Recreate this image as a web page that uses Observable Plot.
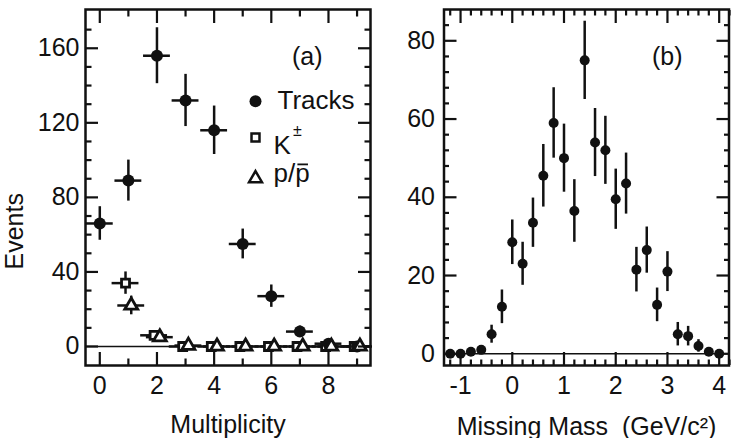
<!DOCTYPE html>
<html>
<head>
<meta charset="utf-8">
<script src="https://cdn.jsdelivr.net/npm/d3@7"></script>
<script src="https://cdn.jsdelivr.net/npm/@observablehq/plot@0.6"></script>
<style>
  html, body { margin: 0; padding: 0; background: #fff; }
  #fig { display: flex; width: 735px; height: 438px; overflow: hidden; }
</style>
</head>
<body>
<div id="fig"></div>
<script>
// ---- (a) event multiplicity ----
const multiplicity = [0, 1, 2, 3, 4, 5, 6, 7, 8, 9];
const tracks      = [66, 89, 156, 132, 116, 55, 27, 8, 1.5, 0];
const tracksErr   = [9, 11, 15, 14, 13, 8, 6, 3, 1.5, 0];

const speciesMultiplicity = [1, 2, 3, 4, 5, 6, 7, 8, 9];
const kaons      = [34, 6, 0, 0, 0, 0, 0, 0, 0];
const kaonsErr   = [6, 2.5, 0.5, 0, 0, 0, 0, 0, 0];
const protons    = [22, 5, 0.5, 0, 0, 0, 0, 0, 0];
const protonsErr = [5, 2.5, 0.5, 0, 0, 0, 0, 0, 0];

const binHalfWidth = 0.47;   // horizontal bar half-width
const speciesShift = 0.1;    // K left, p right of the bin centre

const aXTicks = [0, 2, 4, 6, 8];
const aXMinor = [1, 3, 5, 7, 9];
const aYTicks = [0, 40, 80, 120, 160];
const aYMinor = [10, 20, 30, 50, 60, 70, 90, 100, 110, 130, 140, 150, 170];

// ---- (b) missing mass spectrum ----
const missingMass = [-1.2, -1.0, -0.8, -0.6, -0.4, -0.2, 0.0, 0.2, 0.4, 0.6, 0.8, 1.0, 1.2, 1.4,
                     1.6, 1.8, 2.0, 2.2, 2.4, 2.6, 2.8, 3.0, 3.2, 3.4, 3.6, 3.8, 4.0];
const massEvents  = [0, 0, 0.5, 1, 5, 12, 28.5, 23, 33.5, 45.5, 59, 50, 36.5, 75,
                     54, 52, 39.5, 43.5, 21.5, 26.5, 12.5, 21, 5, 4.5, 2, 0.5, 0];
const massErr     = [0, 0, 0.5, 1, 2.3, 4.3, 5.7, 5.5, 6.3, 8, 9, 8.7, 8, 10,
                     8.7, 8.7, 7.7, 7.8, 5.7, 5.9, 4.3, 5.1, 3, 2.5, 1.6, 0.5, 0];

const bXTicks = [-1, 0, 1, 2, 3, 4];
const bXMinor = d3.range(-12, 43, 2).map(d => d / 10).filter(d => !bXTicks.includes(d));
const bYTicks = [0, 20, 40, 60, 80];
const bYMinor = d3.range(4, 88, 4).filter(d => d % 20 !== 0);

const FONT = "'Liberation Sans', Arial, Helvetica, sans-serif";
const INK = "#111";

// inward tick marks on all four sides: axis ticks shifted back across the frame edge
function frameTicks({xMajor, xMinor, yMajor, yMinor, major, minor}) {
  const s = {stroke: INK, strokeWidth: 2.2, fill: "none", label: null};
  const marks = [];
  for (const [vals, len] of [[xMajor, major], [xMinor, minor]]) {
    marks.push(Plot.axisX({anchor: "bottom", ticks: vals, tickSize: len, dy: -len, ...s}));
    marks.push(Plot.axisX({anchor: "top", ticks: vals, tickSize: len, dy: len, ...s}));
  }
  for (const [vals, len] of [[yMajor, major], [yMinor, minor]]) {
    marks.push(Plot.axisY({anchor: "left", ticks: vals, tickSize: len, dx: len, ...s}));
    marks.push(Plot.axisY({anchor: "right", ticks: vals, tickSize: len, dx: -len, ...s}));
  }
  return marks;
}

// a text label pinned to the top-right corner of the frame
const corner = (str, dx, dy, opts = {}) =>
  Plot.text([str], {frameAnchor: "top-right", lineAnchor: "middle", textAnchor: "start", dx, dy, fill: INK, ...opts});

function panelA() {
  const W = 372, H = 438, mL = 85, mR = 2, mT = 9, mB = 73;
  const xDomain = [-0.5, 9.47], yDomain = [-10.2, 180.8];
  const trk = multiplicity.map((m, i) => ({m, v: tracks[i], e: tracksErr[i]}));
  const kp = speciesMultiplicity.map((m, i) => ({m: m - speciesShift, v: kaons[i], e: kaonsErr[i]}));
  const pp = speciesMultiplicity.map((m, i) => ({m: m + speciesShift, v: protons[i], e: protonsErr[i]}));
  const bars = (data) => [
    Plot.ruleX(data, {x: "m", y1: d => d.v - d.e, y2: d => d.v + d.e, stroke: INK, strokeWidth: 2.5}),
    Plot.ruleY(data, {y: "v", x1: d => d.m - binHalfWidth, x2: d => d.m + binHalfWidth, stroke: INK, strokeWidth: 2.5})
  ];
  // overbar of the antiproton symbol in the legend
  const barY = 97.7, barX = [6.93, 7.3];
  return Plot.plot({
    width: W, height: H,
    marginLeft: mL, marginRight: mR, marginTop: mT, marginBottom: mB,
    style: {fontFamily: FONT, fontSize: "25px", color: INK, background: "#fff"},
    x: {domain: xDomain},
    y: {domain: yDomain},
    marks: [
      Plot.ruleY([0], {stroke: INK, strokeWidth: 1.5}),
      ...bars(trk), ...bars(kp), ...bars(pp),
      Plot.dot(kp, {x: "m", y: "v", symbol: "square", r: 4.5, fill: "#fff", stroke: INK, strokeWidth: 2.8}),
      Plot.dot(trk, {x: "m", y: "v", r: 6, fill: INK}),
      Plot.dot(pp, {x: "m", y: "v", symbol: "triangle", r: 4.8, fill: "#fff", stroke: INK, strokeWidth: 2.8}),
      Plot.frame({stroke: INK, strokeWidth: 2.5}),
      Plot.axisX({ticks: aXTicks, tickSize: 0, tickPadding: 11, tickFormat: d => String(d), label: null}),
      Plot.axisY({ticks: aYTicks, tickSize: 0, tickPadding: 6, tickFormat: d => String(d), label: null}),
      Plot.text(["Multiplicity"], {frameAnchor: "bottom", dy: 67, fill: INK}),
      Plot.text(["Events"], {frameAnchor: "left", dx: -71, dy: 82, rotate: -90, fill: INK}),
      corner("(a)", -48, 47, {textAnchor: "end"}),
      // legend
      Plot.dot([0], {frameAnchor: "top-right", dx: -115, dy: 91.7, r: 6, fill: INK}),
      corner("Tracks", -93, 91.5, {fontSize: 26}),
      Plot.dot([0], {frameAnchor: "top-right", dx: -115, dy: 128, symbol: "square", r: 4.5, fill: "#fff", stroke: INK, strokeWidth: 2.5}),
      corner("K", -97, 136, {fontSize: 26}),
      corner("±", -73, 121, {fontSize: 16, textAnchor: "middle"}),
      Plot.dot([0], {frameAnchor: "top-right", dx: -115, dy: 169, symbol: "triangle", r: 4.8, fill: "#fff", stroke: INK, strokeWidth: 2.5}),
      corner("p/p", -97, 164.5, {fontSize: 26}),
      Plot.ruleY([barY], {x1: barX[0], x2: barX[1], stroke: INK, strokeWidth: 1.8}),
      ...frameTicks({xMajor: aXTicks, xMinor: aXMinor, yMajor: aYTicks, yMinor: aYMinor, major: 13, minor: 6.5})
    ]
  });
}

function panelB() {
  const W = 363, H = 438, mL = 71.5, mR = 6.5, mT = 9, mB = 73;
  const xDomain = [-1.32, 4.19], yDomain = [-3, 88];
  const pts = missingMass.map((x, i) => ({x, v: massEvents[i], e: massErr[i]}));
  return Plot.plot({
    width: W, height: H,
    marginLeft: mL, marginRight: mR, marginTop: mT, marginBottom: mB,
    style: {fontFamily: FONT, fontSize: "25px", color: INK, background: "#fff"},
    x: {domain: xDomain},
    y: {domain: yDomain},
    marks: [
      Plot.ruleY([0], {stroke: INK, strokeWidth: 1.5}),
      Plot.ruleX(pts.filter(d => d.e > 0), {x: "x", y1: d => d.v - d.e, y2: d => d.v + d.e, stroke: INK, strokeWidth: 2.5}),
      Plot.dot(pts, {x: "x", y: "v", r: 5, fill: INK}),
      Plot.frame({stroke: INK, strokeWidth: 2.5}),
      Plot.axisX({ticks: bXTicks, tickSize: 0, tickPadding: 11, tickFormat: d => String(d), label: null}),
      Plot.axisY({ticks: bYTicks, tickSize: 0, tickPadding: 9, tickFormat: d => String(d), label: null}),
      Plot.text(["Missing Mass  (GeV/c\u00B2)"], {frameAnchor: "bottom", dy: 69, fill: INK}),
      corner("(b)", -46.5, 47, {textAnchor: "end"}),
      ...frameTicks({xMajor: bXTicks, xMinor: bXMinor, yMajor: bYTicks, yMinor: bYMinor, major: 13, minor: 5.5})
    ]
  });
}

const fig = document.getElementById("fig");
fig.append(panelA(), panelB());
</script>
</body>
</html>
